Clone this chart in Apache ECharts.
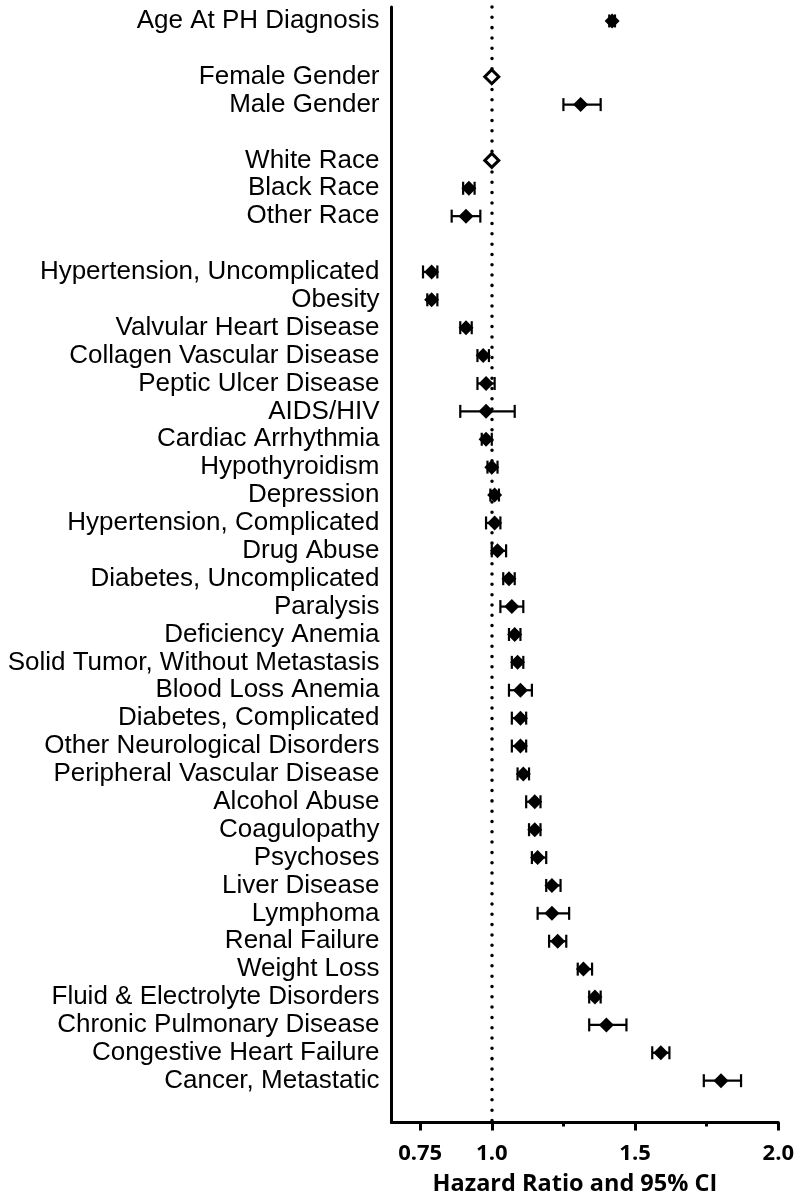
<!DOCTYPE html>
<html>
<head>
<meta charset="utf-8">
<script src="https://cdn.jsdelivr.net/npm/echarts@6/dist/echarts.min.js"></script>
<style>html,body{margin:0;padding:0;background:#fff}#c{width:800px;height:1195px}</style>
</head>
<body>
<div id="c"></div>
<script>
// Row labels (top to bottom); '' = spacer row
var categories = [
  'Age At PH Diagnosis', '',
  'Female Gender', 'Male Gender', '',
  'White Race', 'Black Race', 'Other Race', '',
  'Hypertension, Uncomplicated', 'Obesity', 'Valvular Heart Disease',
  'Collagen Vascular Disease', 'Peptic Ulcer Disease', 'AIDS/HIV',
  'Cardiac Arrhythmia', 'Hypothyroidism', 'Depression',
  'Hypertension, Complicated', 'Drug Abuse', 'Diabetes, Uncomplicated',
  'Paralysis', 'Deficiency Anemia', 'Solid Tumor, Without Metastasis',
  'Blood Loss Anemia', 'Diabetes, Complicated', 'Other Neurological Disorders',
  'Peripheral Vascular Disease', 'Alcohol Abuse', 'Coagulopathy',
  'Psychoses', 'Liver Disease', 'Lymphoma', 'Renal Failure',
  'Weight Loss', 'Fluid & Electrolyte Disorders', 'Chronic Pulmonary Disease',
  'Congestive Heart Failure', 'Cancer, Metastatic', ''
];
// Hazard ratios and 95% CI (null for spacer rows)
var hazardRatio = [
  1.42, null,
  1.00, 1.31, null,
  1.00, 0.92, 0.91, null,
  0.79, 0.79, 0.91, 0.97, 0.98, 0.98, 0.98, 1.00, 1.01,
  1.01, 1.02, 1.06, 1.07, 1.08, 1.09, 1.10, 1.10, 1.10,
  1.11, 1.15, 1.15, 1.16, 1.21, 1.21, 1.23, 1.32, 1.36,
  1.40, 1.59, 1.80, null
];
var ciLower = [
  1.41, null,
  null, 1.25, null,
  null, 0.90, 0.86, null,
  0.76, 0.775, 0.89, 0.95, 0.95, 0.89, 0.965, 0.985, 0.995,
  0.98, 1.00, 1.04, 1.03, 1.06, 1.07, 1.06, 1.07, 1.07,
  1.09, 1.12, 1.13, 1.14, 1.19, 1.16, 1.20, 1.30, 1.34,
  1.34, 1.56, 1.74, null
];
var ciUpper = [
  1.43, null,
  null, 1.38, null,
  null, 0.94, 0.96, null,
  0.81, 0.81, 0.93, 0.99, 1.01, 1.08, 1.00, 1.02, 1.025,
  1.03, 1.05, 1.08, 1.11, 1.10, 1.11, 1.14, 1.12, 1.12,
  1.13, 1.17, 1.17, 1.19, 1.24, 1.27, 1.26, 1.35, 1.38,
  1.47, 1.62, 1.87, null
];
// reference categories (hollow markers)
var isReference = [
  false, false, true, false, false, true, false, false, false,
  false, false, false, false, false, false, false, false, false,
  false, false, false, false, false, false, false, false, false,
  false, false, false, false, false, false, false, false, false,
  false, false, false, false
];
var xMajorTicks = [0.75, 1.0, 1.5, 2.0];
var xMajorLabels = ['0.75', '1.0', '1.5', '2.0'];
var xMinorTicks = [1.25, 1.75];

var filled = [], hollow = [], bars = [];
for (var i = 0; i < categories.length; i++) {
  if (hazardRatio[i] == null) continue;
  if (isReference[i]) hollow.push([hazardRatio[i], i]);
  else filled.push([hazardRatio[i], i]);
  if (ciLower[i] != null) bars.push([ciLower[i], ciUpper[i], i]);
}

var chart = echarts.init(document.getElementById('c'), null, {renderer: 'canvas'});
var option = {
  backgroundColor: '#fff',
  animation: false,
  grid: {left: 391.5, top: 7, right: 21.7, bottom: 72.5, containLabel: false, outerBoundsMode: 'none'},
  xAxis: [{
    type: 'value', min: 0.65, max: 2.0,
    splitLine: {show: false},
    axisLine: {show: true, lineStyle: {color: '#000', width: 3}},
    axisTick: {show: true, customValues: xMajorTicks, length: 8, lineStyle: {color: '#000', width: 3}},
    axisLabel: {
      customValues: xMajorTicks, margin: 20,
      fontFamily: 'Open Sans', fontWeight: 'bold', fontSize: 22, color: '#000',
      formatter: function (v) {
        for (var k = 0; k < xMajorTicks.length; k++) if (Math.abs(xMajorTicks[k] - v) < 1e-9) return xMajorLabels[k];
        return '';
      }
    },
    name: 'Hazard Ratio and 95% CI', nameLocation: 'middle', nameGap: 50,
    nameTextStyle: {fontFamily: 'Open Sans', fontWeight: 'bold', fontSize: 23.5, color: '#000', padding: [0, 20, 0, 0]}
  }, {
    type: 'value', min: 0.65, max: 2.0, position: 'bottom',
    splitLine: {show: false},
    axisLine: {show: false},
    axisTick: {show: true, customValues: xMinorTicks, length: 4, lineStyle: {color: '#000', width: 3}},
    axisLabel: {show: false}
  }],
  yAxis: {
    type: 'category', inverse: true, data: categories,
    axisLine: {show: true, lineStyle: {color: '#000', width: 3}},
    axisTick: {show: false},
    splitLine: {show: false},
    axisLabel: {interval: 0, margin: 12, fontFamily: 'Liberation Sans', fontSize: 26, color: '#000'}
  },
  series: [
    {
      type: 'custom', xAxisIndex: 0,
      data: bars,
      encode: {x: [0, 1], y: 2},
      z: 3,
      renderItem: function (params, api) {
        var a = api.coord([api.value(0), api.value(2)]);
        var b = api.coord([api.value(1), api.value(2)]);
        var h = 6.5;
        var st = {stroke: '#000', lineWidth: 2.2, fill: null};
        return {type: 'group', children: [
          {type: 'line', shape: {x1: a[0], y1: a[1], x2: b[0], y2: b[1]}, style: st},
          {type: 'line', shape: {x1: a[0], y1: a[1] - h, x2: a[0], y2: a[1] + h}, style: st},
          {type: 'line', shape: {x1: b[0], y1: b[1] - h, x2: b[0], y2: b[1] + h}, style: st}
        ]};
      }
    },
    {
      type: 'scatter', xAxisIndex: 0, data: filled,
      symbol: 'diamond', symbolSize: [15, 15], z: 4,
      itemStyle: {color: '#000', opacity: 1},
      markLine: {
        silent: true, symbol: ['none', 'none'], label: {show: false}, z: 1,
        lineStyle: {color: '#000', width: 3.5, type: [0.01, 10.3], cap: 'round'},
        data: [{xAxis: 1.0}]
      }
    },
    {
      type: 'scatter', xAxisIndex: 0, data: hollow,
      symbol: 'diamond', symbolSize: [14, 14], z: 5,
      itemStyle: {color: '#fff', borderColor: '#000', borderWidth: 3, opacity: 1}
    }
  ]
};
chart.setOption(option);
</script>
</body>
</html>
